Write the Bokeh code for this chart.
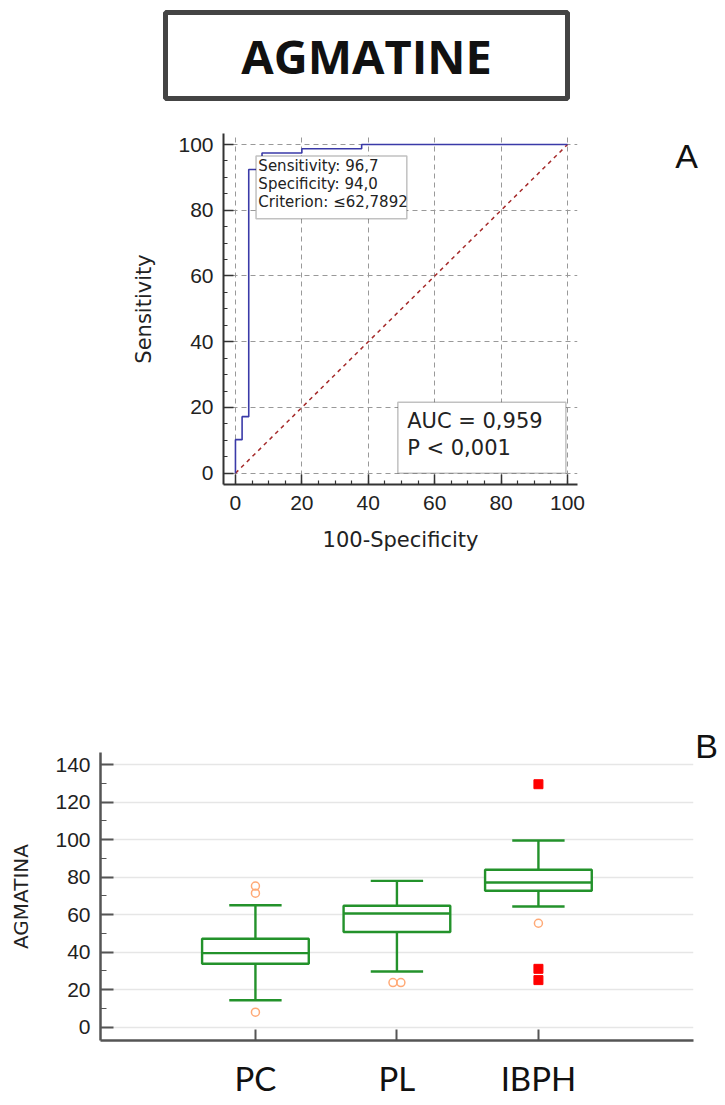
from bokeh.plotting import figure
from bokeh.models import Range1d, Label, BoxAnnotation, SingleIntervalTicker, FixedTicker
from bokeh.layouts import column, row
from bokeh.embed import file_html
from bokeh.resources import INLINE

# ---------------- data ----------------
title_text = "AGMATINE"

# ROC curve (100-Specificity, Sensitivity)
roc_fpr = [0, 0, 2, 2, 4, 4, 8, 8, 20, 20, 38, 38, 100]
roc_tpr = [0, 10.2, 10.2, 17.2, 17.2, 92.4, 92.4, 97.4, 97.4, 98.7, 98.7, 100, 100]
diag_x = [0, 100]
diag_y = [0, 100]
sens_lines = ["Sensitivity: 96,7", "Specificity: 94,0", "Criterion: \u226462,7892"]
auc_lines = ["AUC = 0,959", "P < 0,001"]
panel_labels = ["A", "B"]

# Box plot
cats = ["PC", "PL", "IBPH"]
q1 = [33.8, 50.7, 72.7]
median = [39.5, 60.6, 77.1]
q3 = [47.1, 64.7, 83.9]
whisk_lo = [14.4, 29.7, 64.3]
whisk_hi = [65.0, 78.0, 99.5]
out_cat = ["PC", "PC", "PC", "PL", "PL", "IBPH"]
out_val = [75.2, 71.4, 8.0, 23.8, 23.8, 55.4]
out_side = [0, 0, 0, -1, 1, 0]
far_cat = ["IBPH", "IBPH", "IBPH"]
far_val = [129.5, 31.1, 25.1]

W = 725
TICK_FONT = "Liberation Sans"
LABEL_FONT = "DejaVu Sans"


def label_fig(width, height, x, y, text):
    f = figure(width=width, height=height, x_range=Range1d(0, width), y_range=Range1d(0, height),
               x_axis_type=None, y_axis_type=None, toolbar_location=None,
               output_backend="svg", min_border=0, frame_align=False)
    f.outline_line_color = None
    f.add_layout(Label(x=x, y=y, text=text, text_font=TICK_FONT, text_font_size="34px",
                       text_align="center", text_baseline="alphabetic", text_color="#111111"))
    return f


# ---------------- title ----------------
t = figure(width=W, height=117, x_range=Range1d(0, 1), y_range=Range1d(0, 1),
           x_axis_type=None, y_axis_type=None, toolbar_location=None,
           output_backend="svg", min_border_left=165, min_border_right=158,
           min_border_top=12, min_border_bottom=19, frame_align=False)
t.outline_line_color = "#444444"
t.outline_line_width = 5
t.add_layout(Label(x=0.5, y=0.495, text=title_text, text_align="center",
                   text_baseline="alphabetic", text_font="Open Sans",
                   text_font_size="47px", text_font_style="bold",
                   text_color="#111111"))

# ---------------- ROC plot ----------------
AW, AH = 608, 453
a = figure(width=AW, height=AH, x_range=Range1d(-3.6, 103), y_range=Range1d(-3.44, 103.35),
           toolbar_location=None, output_backend="svg", frame_align=False,
           min_border_left=223, min_border_right=31, min_border_top=16, min_border_bottom=86)
a.outline_line_color = None
for ax in (a.xaxis[0], a.yaxis[0]):
    ax.ticker = SingleIntervalTicker(interval=20, num_minor_ticks=4)
    ax.axis_line_color = "#333333"
    ax.axis_line_width = 2
    ax.major_tick_line_color = "#333333"
    ax.minor_tick_line_color = "#333333"
    ax.major_tick_line_width = 1.5
    ax.minor_tick_line_width = 1.2
    ax.major_tick_in = 10
    ax.major_tick_out = 0
    ax.minor_tick_in = 4
    ax.minor_tick_out = 0
    ax.major_label_text_font = TICK_FONT
    ax.major_label_text_font_size = "21px"
    ax.major_label_text_color = "#222222"
    ax.axis_label_text_font = LABEL_FONT
    ax.axis_label_text_font_size = "21px"
    ax.axis_label_text_font_style = "normal"
    ax.axis_label_text_color = "#222222"
a.xaxis.axis_label = "100-Specificity"
a.yaxis.axis_label = "Sensitivity"
a.xaxis.major_label_standoff = 11
a.yaxis.major_label_standoff = 10
a.xaxis.axis_label_standoff = 15
a.yaxis.axis_label_standoff = 19
a.grid.grid_line_color = "#999999"
a.grid.grid_line_dash = "5 4"
a.grid.grid_line_width = 1

a.line(diag_x, diag_y, line_color="#a52a2a", line_width=1.5, line_dash="4 4")
a.line(roc_fpr, roc_tpr, line_color="#3a3aa8", line_width=1.6)

a.add_layout(BoxAnnotation(left=6.2, right=51.6, bottom=77.4, top=96.5,
                           fill_color="white", fill_alpha=1,
                           line_color="#333333", line_width=1.5))
for i, s in enumerate(sens_lines):
    a.add_layout(Label(x=6.9, y=93.4 - i * 5.45, text=s, text_font=LABEL_FONT,
                       text_font_size="15px", text_color="#222222",
                       text_baseline="alphabetic"))
a.add_layout(BoxAnnotation(left=48.9, right=99.5, bottom=0, top=21.6,
                           fill_color="white", fill_alpha=1,
                           line_color="#333333", line_width=1.5))
for i, s in enumerate(auc_lines):
    a.add_layout(Label(x=51.7, y=15.8 - i * 8.1, text=s, text_font=LABEL_FONT,
                       text_font_size="21px", text_color="#222222",
                       text_baseline="alphabetic"))
a_lab = label_fig(W - AW, AH, 78, 414.5, panel_labels[0])

# ---------------- Box plot ----------------
BW, BH = 694, 535
b = figure(width=BW, height=BH, x_range=Range1d(-0.095, 4.096), y_range=Range1d(-7.09, 146.4),
           toolbar_location=None, output_backend="svg", frame_align=False,
           min_border_left=100, min_border_right=1, min_border_top=182, min_border_bottom=65)
b.outline_line_color = None
pos = list(range(1, len(cats) + 1))
xmap = dict(zip(cats, pos))

yax = b.yaxis[0]
yax.ticker = SingleIntervalTicker(interval=20, num_minor_ticks=2)
yax.major_tick_in = 13
yax.major_tick_out = 0
yax.minor_tick_in = 6
yax.minor_tick_out = 0
yax.major_label_standoff = 10
yax.axis_label = "AGMATINA"
yax.axis_label_standoff = 19
yax.axis_label_text_font = LABEL_FONT
yax.axis_label_text_font_size = "20px"
yax.axis_label_text_font_style = "normal"
yax.axis_label_text_color = "#222222"
yax.major_label_text_font = TICK_FONT
yax.major_label_text_font_size = "21px"
yax.major_label_text_color = "#222222"
yax.minor_tick_line_color = "#555555"

xax = b.xaxis[0]
xax.ticker = FixedTicker(ticks=pos)
xax.major_label_overrides = {p_: c for p_, c in zip(pos, cats)}
xax.major_tick_in = 11
xax.major_tick_out = 0
xax.minor_tick_line_color = None
xax.major_label_standoff = 17
xax.major_label_text_font = "Lato"
xax.major_label_text_font_size = "33px"
xax.major_label_text_color = "#111111"

for ax in (xax, yax):
    ax.axis_line_color = "#555555"
    ax.axis_line_width = 2.5
    ax.major_tick_line_color = "#555555"
    ax.major_tick_line_width = 2

b.xgrid.grid_line_color = None
b.ygrid.grid_line_color = "#e6e6e6"
b.ygrid.grid_line_width = 1.5

green = "#23922b"
bw = 0.754
cw = 0.37
b.quad(left=[p_ - bw / 2 for p_ in pos], right=[p_ + bw / 2 for p_ in pos],
       bottom=q1, top=q3, fill_color="white", line_color=green, line_width=2.4)
b.segment(x0=[p_ - bw / 2 for p_ in pos], y0=median, x1=[p_ + bw / 2 for p_ in pos], y1=median,
          line_color=green, line_width=2.4)
b.segment(x0=pos, y0=q3, x1=pos, y1=whisk_hi, line_color=green, line_width=2.4)
b.segment(x0=pos, y0=q1, x1=pos, y1=whisk_lo, line_color=green, line_width=2.4)
b.segment(x0=[p_ - cw / 2 for p_ in pos], y0=whisk_hi, x1=[p_ + cw / 2 for p_ in pos], y1=whisk_hi,
          line_color=green, line_width=2.4)
b.segment(x0=[p_ - cw / 2 for p_ in pos], y0=whisk_lo, x1=[p_ + cw / 2 for p_ in pos], y1=whisk_lo,
          line_color=green, line_width=2.4)
b.scatter(x=[xmap[c] + s * 0.028 for c, s in zip(out_cat, out_side)], y=out_val,
          marker="circle", size=8, fill_color=None, line_color="#ffaa77", line_width=1.5)
b.scatter(x=[xmap[c] for c in far_cat], y=far_val, marker="square", size=9,
          fill_color="#ff0000", line_color="#ff0000")
b_lab = label_fig(W - BW, BH, 12, 359.5, panel_labels[1])

layout = column(t, row(a, a_lab, spacing=0), row(b, b_lab, spacing=0), spacing=0)
open("out.html", "w").write(file_html(layout, INLINE))
